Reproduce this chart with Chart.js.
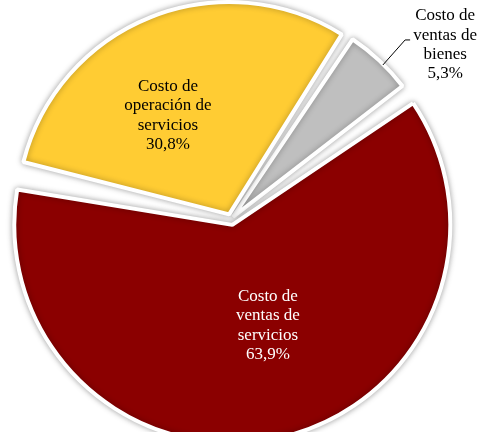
<!DOCTYPE html>
<html>
<head>
<meta charset="utf-8">
<script src="https://cdn.jsdelivr.net/npm/chart.js@4"></script>
<style>
  body { margin: 0; background: #fff; }
  canvas { display: block; }
</style>
</head>
<body>
<canvas id="myChart" width="479" height="432"></canvas>
<script>
// data
var categories = ['Costo de ventas de bienes', 'Costo de ventas de servicios', 'Costo de operación de servicios'];
var shares = [5.3, 63.9, 30.8];
var shareLabels = ['5,3%', '63,9%', '30,8%'];
var labelLines = [
    ['Costo de', 'ventas de', 'bienes'],
    ['Costo de', 'ventas de', 'servicios'],
    ['Costo de', 'operación de', 'servicios']
];
var sliceColors = ['#bfbfbf', '#8b0000', '#ffcc33'];
var textColors = ['#000000', '#ffffff', '#000000'];

// where the text sits, relative to each slice (radius fraction, angle shift in deg)
var labelSpots = [
    { r: 1.195, shift: 1.06, dx: 40, dy: 5, leader: true },
    { r: 0.54, shift: -6.8, dx: 0, dy: 0 },
    { r: 0.58, shift: -9.5, dx: 0, dy: 0 }
];

var shadowPlugin = {
    id: 'shadow',
    beforeDatasetDraw: function (chart) {
        var ctx = chart.ctx;
        ctx.save();
        ctx.shadowColor = 'rgba(0,0,0,0.32)';
        ctx.shadowBlur = 6;
    },
    afterDatasetDraw: function (chart) {
        chart.ctx.restore();
    }
};

var labelPlugin = {
    id: 'sliceLabels',
    afterDatasetsDraw: function (chart) {
        var ctx = chart.ctx;
        var meta = chart.getDatasetMeta(0);
        ctx.save();
        ctx.font = '17px "Liberation Serif", "Times New Roman", serif';
        ctx.textAlign = 'center';
        ctx.textBaseline = 'middle';
        meta.data.forEach(function (arc, i) {
            var p = arc.getProps(['x', 'y', 'startAngle', 'endAngle', 'outerRadius']);
            var spot = labelSpots[i];
            var mid = (p.startAngle + p.endAngle) / 2;
            var a = mid + spot.shift * Math.PI / 180;
            var px = p.x + Math.cos(a) * p.outerRadius * spot.r;
            var py = p.y + Math.sin(a) * p.outerRadius * spot.r;
            if (spot.leader) {
                var a0 = mid + 1.46 * Math.PI / 180;
                ctx.strokeStyle = '#000';
                ctx.lineWidth = 1;
                ctx.beginPath();
                ctx.moveTo(p.x + Math.cos(a0) * p.outerRadius * 1.035, p.y + Math.sin(a0) * p.outerRadius * 1.035);
                ctx.lineTo(px, py);
                ctx.lineTo(px + 5, py);
                ctx.stroke();
            }
            var lines = labelLines[i].concat([shareLabels[i]]);
            var lh = 19.3;
            var cx = px + spot.dx;
            var cy = py + spot.dy;
            ctx.fillStyle = textColors[i];
            lines.forEach(function (t, k) {
                ctx.fillText(t, cx, cy + (k - (lines.length - 1) / 2) * lh);
            });
        });
        ctx.restore();
    }
};

var ctx = document.getElementById('myChart').getContext('2d');
var chart = new Chart(ctx, {
    type: 'pie',
    data: {
        labels: categories,
        datasets: [{
            data: shares,
            backgroundColor: sliceColors,
            borderColor: '#ffffff',
            borderWidth: 4,
            offset: [12, 24, 20],
            spacing: 6
        }]
    },
    options: {
        responsive: false,
        animation: false,
        devicePixelRatio: 1,
        rotation: 33.6,
        radius: 209,
        layout: { padding: { left: 0, right: 17, top: 6, bottom: 0 } },
        plugins: {
            legend: { display: false },
            tooltip: { enabled: false }
        }
    },
    plugins: [shadowPlugin, labelPlugin]
});
</script>
</body>
</html>
